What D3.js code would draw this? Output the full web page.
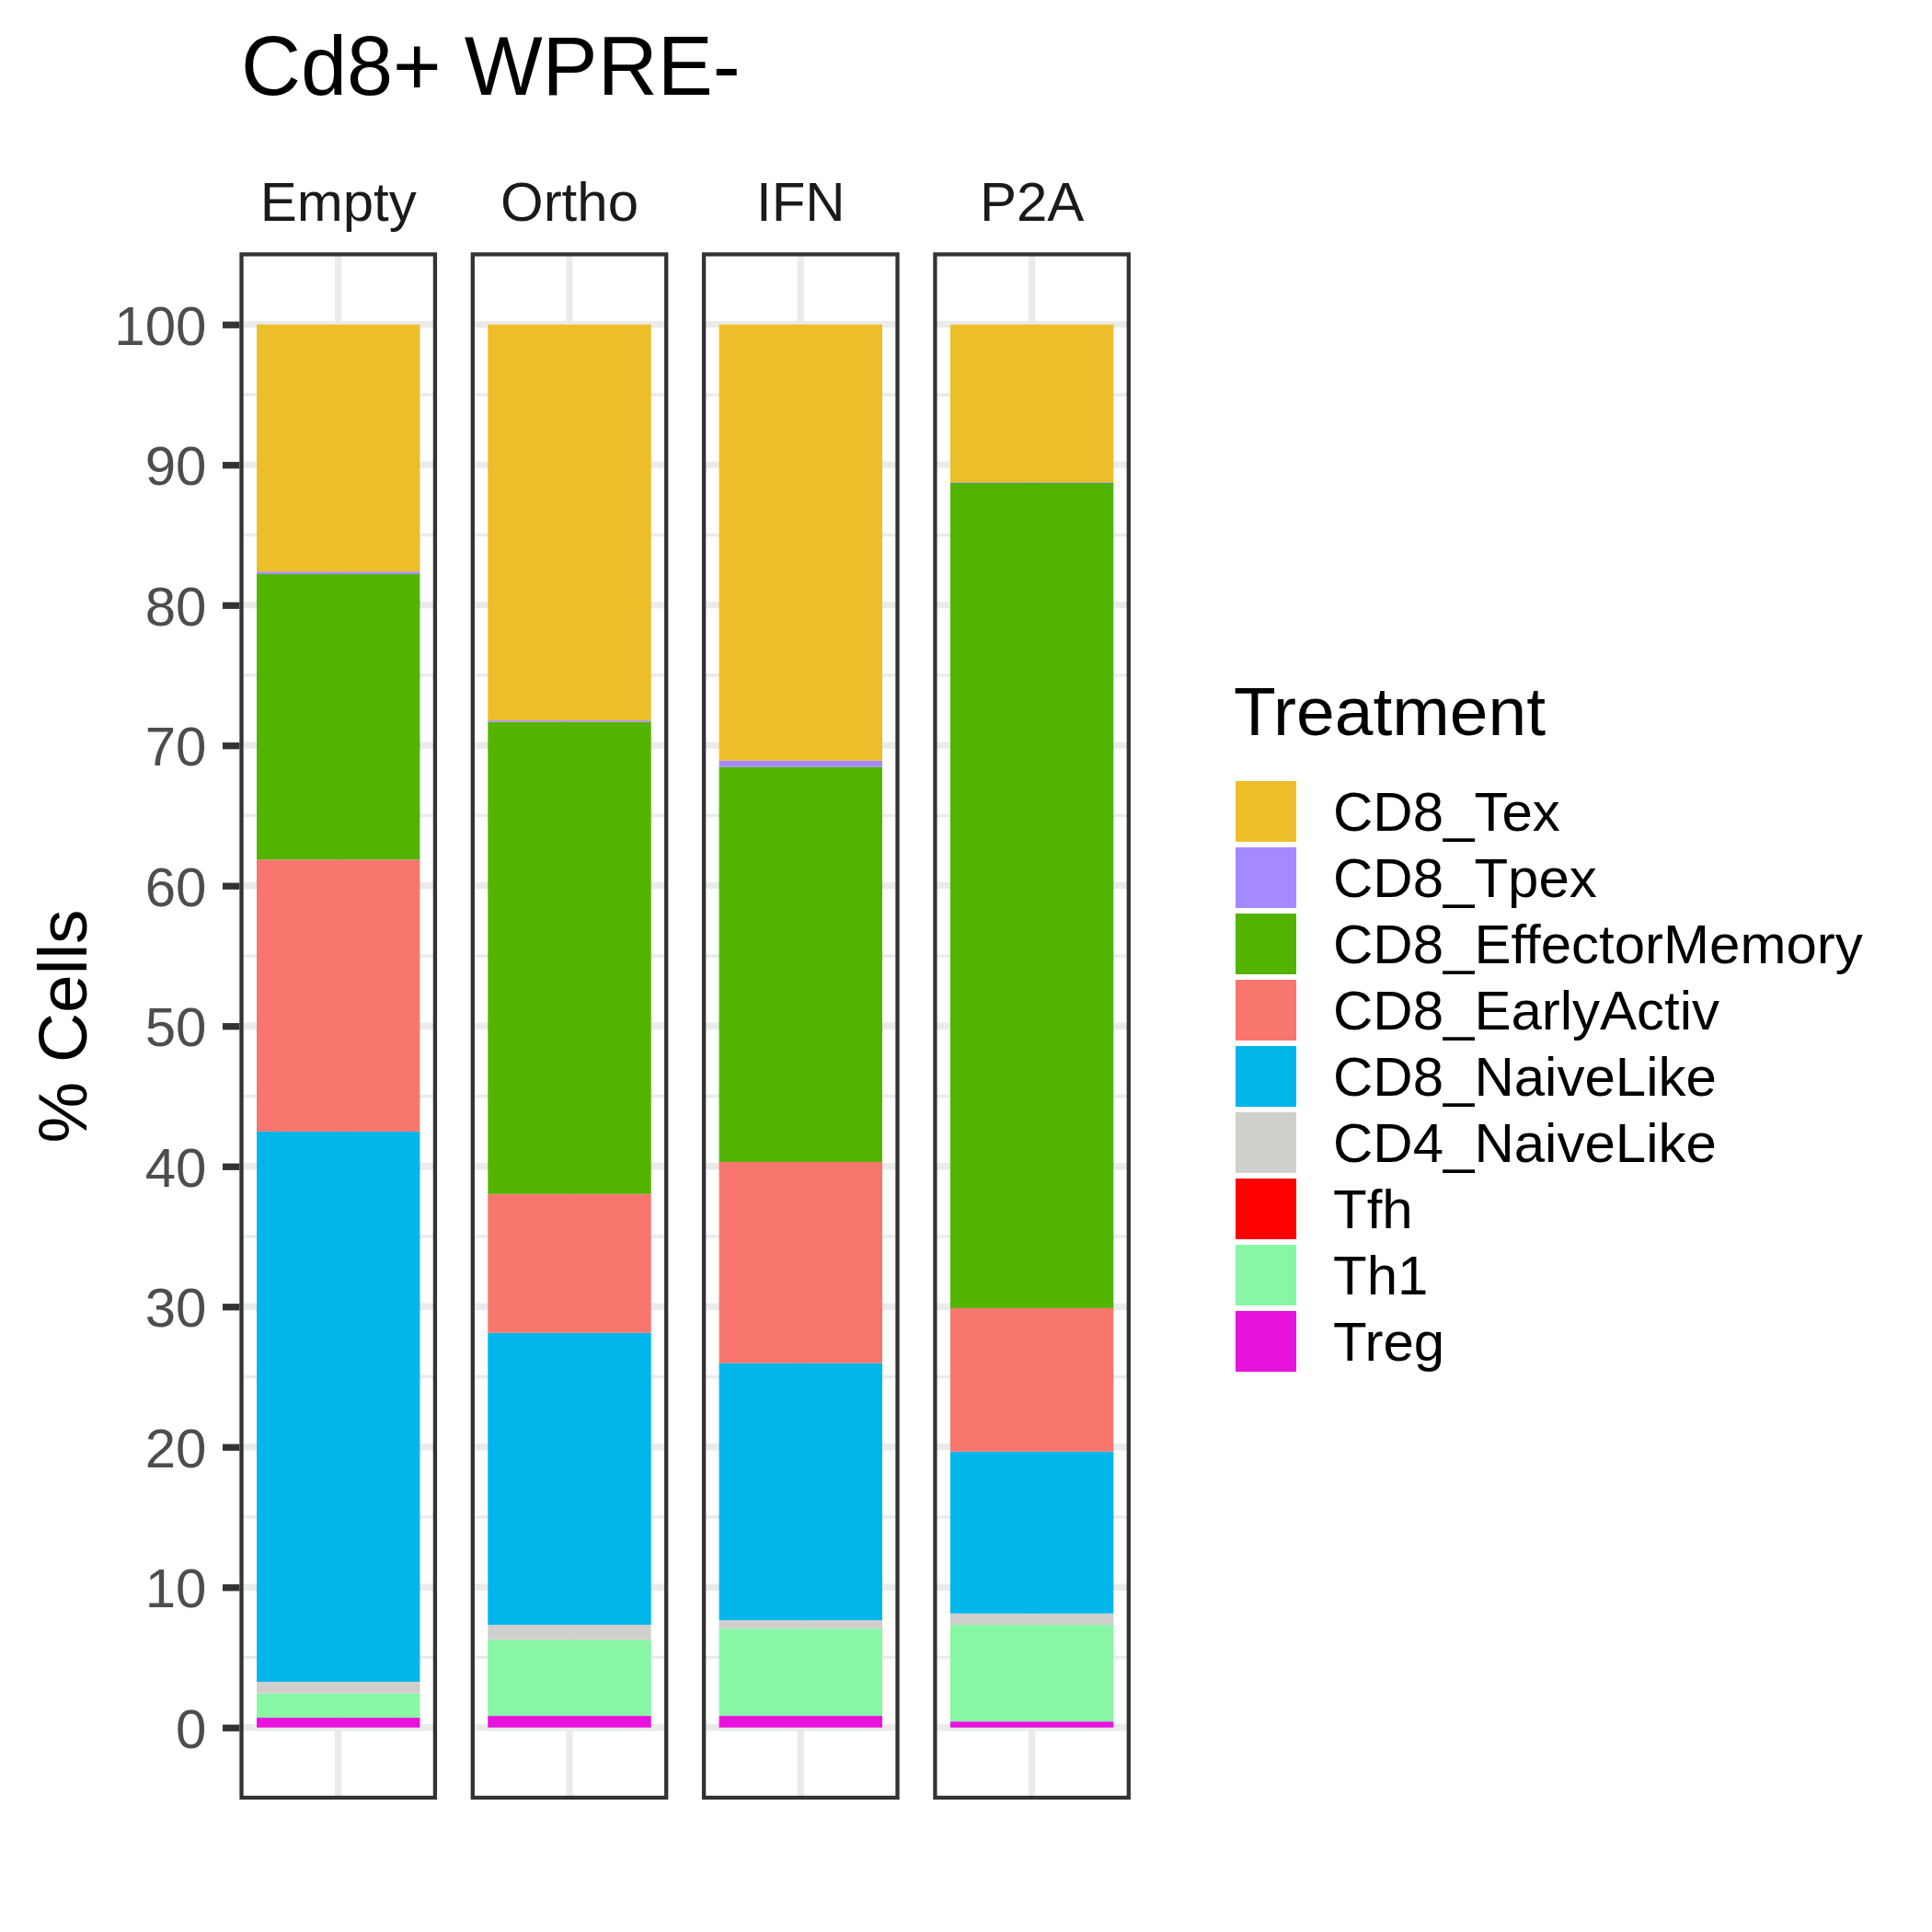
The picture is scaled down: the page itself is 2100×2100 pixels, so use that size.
<!DOCTYPE html>
<html>
<head>
<meta charset="utf-8">
<script src="https://cdn.jsdelivr.net/npm/d3@7"></script>
<style>
  body { margin: 0; background: #fff; }
  text { font-family: "Liberation Sans", Arial, Helvetica, sans-serif; }
</style>
</head>
<body>
<div id="chart"></div>
<script>
// Facet panels, left to right
var groups = ["Empty", "Ortho", "IFN", "P2A"];

// Cell states in legend order (top of each stack first)
var cellTypes = ["CD8_Tex", "CD8_Tpex", "CD8_EffectorMemory", "CD8_EarlyActiv",
  "CD8_NaiveLike", "CD4_NaiveLike", "Tfh", "Th1", "Treg"];

var cellColors = ["#edbe2a", "#A58AFF", "#53B400", "#F8766D", "#00B6EB",
  "#d1cfcc", "#FF0000", "#87f7a5", "#e812dd"];

// % cells for each group (Empty, Ortho, IFN, P2A)
var tex          = [17.61, 28.22, 31.08, 11.23];
var tpex         = [0.17, 0.10, 0.45, 0.05];
var effMemory    = [20.36, 33.65, 28.16, 58.83];
var earlyActiv   = [19.38, 9.90, 14.34, 10.22];
var cd8Naive     = [39.22, 20.81, 18.32, 11.54];
var cd4Naive     = [0.83, 1.07, 0.60, 0.81];
var tfh          = [0, 0, 0, 0];
var th1          = [1.73, 5.42, 6.22, 6.89];
var treg         = [0.70, 0.83, 0.83, 0.43];

// Axis ticks
var yTicks = [0, 10, 20, 30, 40, 50, 60, 70, 80, 90, 100];
var yMinorTicks = [5, 15, 25, 35, 45, 55, 65, 75, 85, 95];

var seriesByType = {
  "CD8_Tex": tex, "CD8_Tpex": tpex, "CD8_EffectorMemory": effMemory,
  "CD8_EarlyActiv": earlyActiv, "CD8_NaiveLike": cd8Naive,
  "CD4_NaiveLike": cd4Naive, "Tfh": tfh, "Th1": th1, "Treg": treg
};

// Build one row per group for d3.stack
var table = groups.map(function(g, i) {
  var row = { group: g };
  cellTypes.forEach(function(c) { row[c] = seriesByType[c][i]; });
  return row;
});

var color = d3.scaleOrdinal().domain(cellTypes).range(cellColors);

// Treg at the bottom, CD8_Tex on top
var stackKeys = cellTypes.slice().reverse();
var stacked = d3.stack().keys(stackKeys)(table);

// SVG area
var svgWidth = 2100;
var svgHeight = 2100;

var svg = d3.select("#chart")
  .append("svg")
  .attr("width", svgWidth)
  .attr("height", svgHeight);

svg.append("rect")
  .attr("width", svgWidth)
  .attr("height", svgHeight)
  .attr("fill", "#ffffff");

// Scales
var facet = d3.scaleBand()
  .domain(groups)
  .range([262.5, 1226.8])
  .paddingInner(0.16275);

var panelW = facet.bandwidth();

var yScale = d3.scaleLinear()
  .domain([-5, 105])
  .range([1954, 276.45]);

var xInner = d3.scaleLinear()
  .domain([0, 1])
  .range([0, panelW]);

var barPad = 0.0784;

var gridColor = "#EBEBEB";
var majorW = 7.3;
var minorW = 3.6;
var smallFont = 60;

// One group per facet panel
var panels = svg.selectAll(".panel")
  .data(groups)
  .enter()
  .append("g")
  .attr("class", "panel")
  .attr("transform", d => `translate(${facet(d)}, 0)`);

// minor gridlines
panels.selectAll(".minor")
  .data(yMinorTicks)
  .enter()
  .append("line")
  .attr("x1", xInner(0))
  .attr("x2", xInner(1))
  .attr("y1", d => yScale(d))
  .attr("y2", d => yScale(d))
  .attr("stroke", gridColor)
  .attr("stroke-width", minorW);

// major gridlines
panels.selectAll(".major")
  .data(yTicks)
  .enter()
  .append("line")
  .attr("x1", xInner(0))
  .attr("x2", xInner(1))
  .attr("y1", d => yScale(d))
  .attr("y2", d => yScale(d))
  .attr("stroke", gridColor)
  .attr("stroke-width", majorW);

panels.append("line")
  .attr("x1", xInner(0.5))
  .attr("x2", xInner(0.5))
  .attr("y1", yScale(105))
  .attr("y2", yScale(-5))
  .attr("stroke", gridColor)
  .attr("stroke-width", majorW);

// stacked bars
stacked.forEach(function(layer) {
  panels.append("rect")
    .attr("x", xInner(barPad))
    .attr("width", xInner(1 - barPad) - xInner(barPad))
    .attr("y", (g, i) => yScale(layer[i][1]))
    .attr("height", (g, i) => yScale(layer[i][0]) - yScale(layer[i][1]))
    .attr("fill", color(layer.key));
});

// panel borders
panels.append("rect")
  .attr("x", xInner(0))
  .attr("y", yScale(105))
  .attr("width", panelW)
  .attr("height", yScale(-5) - yScale(105))
  .attr("fill", "none")
  .attr("stroke", "#333333")
  .attr("stroke-width", 4.3);

// strip labels
panels.append("text")
  .attr("x", xInner(0.5))
  .attr("y", 240)
  .attr("text-anchor", "middle")
  .attr("font-size", smallFont)
  .attr("fill", "#1A1A1A")
  .text(d => d);

// Y axis
var leftAxis = d3.axisLeft(yScale)
  .tickValues(yTicks)
  .tickSize(18.3)
  .tickPadding(17.6);

var yAxisG = svg.append("g")
  .attr("transform", "translate(260.3, 0)")
  .call(leftAxis);

yAxisG.select(".domain").remove();
yAxisG.selectAll(".tick line")
  .attr("stroke", "#333333")
  .attr("stroke-width", majorW);
yAxisG.selectAll(".tick text")
  .attr("font-size", smallFont)
  .attr("font-family", "Liberation Sans, Arial, sans-serif")
  .attr("fill", "#4D4D4D")
  .attr("dy", "0.355em");

// Axis title
svg.append("text")
  .attr("transform", "translate(94, 1115.5) rotate(-90)")
  .attr("text-anchor", "middle")
  .attr("font-size", 75)
  .attr("fill", "#000000")
  .text("% Cells");

// Plot title
svg.append("text")
  .attr("x", 262)
  .attr("y", 103)
  .attr("font-size", 90)
  .attr("fill", "#000000")
  .text("Cd8+ WPRE-");

// Legend
var legend = svg.append("g")
  .attr("transform", "translate(1343, 849)");

legend.append("text")
  .attr("x", -2)
  .attr("y", -50)
  .attr("font-size", 75)
  .attr("fill", "#000000")
  .text("Treatment");

var legendRows = legend.selectAll(".legend-row")
  .data(cellTypes)
  .enter()
  .append("g")
  .attr("class", "legend-row")
  .attr("transform", (d, i) => `translate(0, ${i * 72})`);

legendRows.append("rect")
  .attr("width", 66)
  .attr("height", 66)
  .attr("fill", d => color(d));

legendRows.append("text")
  .attr("x", 106)
  .attr("y", 33)
  .attr("dy", "0.355em")
  .attr("font-size", smallFont)
  .attr("fill", "#000000")
  .text(d => d);
</script>
</body>
</html>
